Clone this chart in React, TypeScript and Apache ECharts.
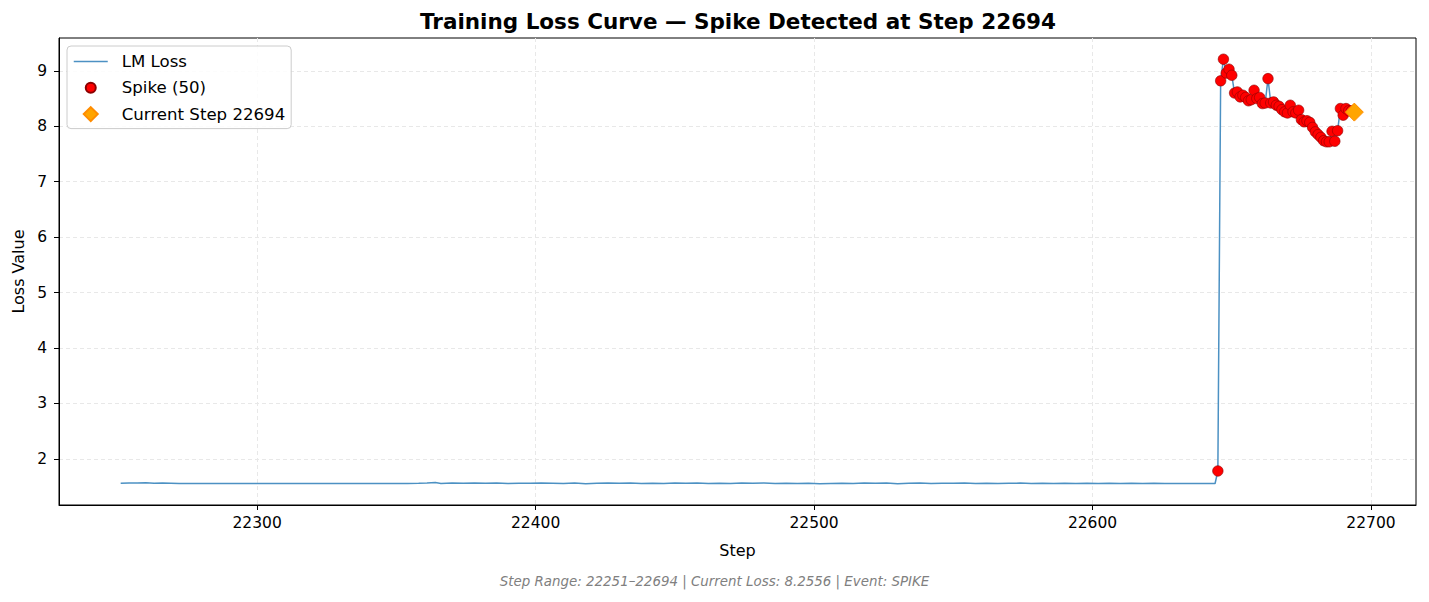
import { useEffect, useRef } from 'react';
import * as echarts from 'echarts';

// Flat part of the loss curve before the spike, [step, loss]
const baseLoss: [number, number][] = [
    [22251, 1.560], [22254, 1.565], [22257, 1.562], [22260, 1.566], [22263, 1.558],
    [22266, 1.563], [22269, 1.560], [22272, 1.553], [22300, 1.553], [22330, 1.553],
    [22354, 1.553], [22358, 1.558], [22361, 1.562], [22364, 1.570], [22366, 1.556],
    [22370, 1.562], [22374, 1.558], [22378, 1.563], [22382, 1.557], [22386, 1.561],
    [22390, 1.555], [22394, 1.560], [22398, 1.557], [22402, 1.562], [22406, 1.560],
    [22410, 1.556], [22414, 1.562], [22418, 1.550], [22422, 1.560], [22426, 1.562],
    [22430, 1.557], [22434, 1.561], [22438, 1.555], [22442, 1.559], [22446, 1.556],
    [22450, 1.561], [22454, 1.557], [22458, 1.563], [22462, 1.555], [22466, 1.560],
    [22470, 1.552], [22474, 1.561], [22478, 1.557], [22482, 1.562], [22486, 1.556],
    [22490, 1.559], [22494, 1.554], [22498, 1.557], [22502, 1.549], [22506, 1.556],
    [22510, 1.560], [22514, 1.555], [22518, 1.561], [22522, 1.557], [22526, 1.562],
    [22530, 1.551], [22534, 1.558], [22538, 1.562], [22542, 1.556], [22546, 1.560],
    [22550, 1.557], [22554, 1.561], [22558, 1.554], [22562, 1.559], [22566, 1.552],
    [22570, 1.558], [22574, 1.561], [22578, 1.556], [22582, 1.560], [22586, 1.555],
    [22590, 1.559], [22594, 1.556], [22598, 1.560], [22602, 1.554], [22606, 1.558],
    [22610, 1.555], [22614, 1.559], [22618, 1.555], [22622, 1.558], [22626, 1.554],
    [22630, 1.556], [22634, 1.555], [22638, 1.556], [22642, 1.554], [22644, 1.554]
];

// Spike region: steps 22645..22694, one value per step
const spikeSteps = [
    22645, 22646, 22647, 22648, 22649, 22650, 22651, 22652, 22653, 22654,
    22655, 22656, 22657, 22658, 22659, 22660, 22661, 22662, 22663, 22664,
    22665, 22666, 22667, 22668, 22669, 22670, 22671, 22672, 22673, 22674,
    22675, 22676, 22677, 22678, 22679, 22680, 22681, 22682, 22683, 22684,
    22685, 22686, 22687, 22688, 22689, 22690, 22691, 22692, 22693, 22694
];
const spikeValues = [
    1.78, 8.82, 9.21, 8.96, 9.03, 8.92, 8.60, 8.62, 8.53, 8.56,
    8.52, 8.46, 8.48, 8.65, 8.50, 8.52, 8.41, 8.42, 8.86, 8.42,
    8.44, 8.38, 8.36, 8.30, 8.26, 8.24, 8.38, 8.26, 8.24, 8.29,
    8.12, 8.08, 8.10, 8.07, 7.98, 7.90, 7.85, 7.80, 7.74, 7.72,
    7.72, 7.91, 7.73, 7.92, 8.32, 8.20, 8.32, 8.28, 8.28, 8.2556
];

const currentStep = 22694;
const currentLoss = 8.2556;
const eventName = 'SPIKE';

const FONT = 'DejaVu Sans';
const LINE_COLOR = '#4c91c3';

// legend icons: small padded circle, diamond
const DOT_ICON = 'path://M-7,-7M7,7M-5,0A5,5,0,1,0,5,0A5,5,0,1,0,-5,0Z';
const DIAMOND_ICON = 'path://M0,-1L1,0L0,1L-1,0Z';

export default function App() {
    const chartRef = useRef<HTMLDivElement>(null);

    useEffect(() => {
        if (!chartRef.current) return;
        const chart = echarts.init(chartRef.current, undefined, { renderer: 'svg' });

        const spikePoints = spikeSteps.map((s, i) => [s, spikeValues[i]]);
        const linePoints = [...baseLoss, ...spikePoints];

        // matplotlib-style 5% margins around the data
        const xs = linePoints.map(p => p[0]);
        const ys = linePoints.map(p => p[1]);
        const xMin = Math.min(...xs), xMax = Math.max(...xs);
        const yMin = Math.min(...ys), yMax = Math.max(...ys);
        const xPad = (xMax - xMin) * 0.05;
        const yPad = (yMax - yMin) * 0.05;

        const lossName = 'LM Loss';
        const spikeName = `Spike (${spikeSteps.length})`;
        const currentName = `Current Step ${currentStep}`;

        const gridLine = { show: true, showMinLine: false, showMaxLine: false, lineStyle: { type: [4, 3], color: '#e8e8e8', width: 1 } };

        const option: echarts.EChartsOption = {
            animation: false,
            backgroundColor: '#fff',
            textStyle: { fontFamily: FONT },
            title: {
                text: `Training Loss Curve — Spike Detected at Step ${currentStep}`,
                left: 733,
                textAlign: 'center',
                top: 5,
                textStyle: { fontFamily: FONT, fontSize: 21.5, fontWeight: 'bold', color: '#000' }
            },
            legend: {
                orient: 'vertical',
                left: 67,
                top: 46,
                padding: [7, 6, 6, 6],
                itemWidth: 34,
                itemHeight: 14,
                itemGap: 9.3,
                backgroundColor: 'rgba(255,255,255,0.85)',
                borderColor: '#cccccc',
                borderWidth: 1,
                borderRadius: 4,
                textStyle: { fontFamily: FONT, fontSize: 16.6, color: '#000', padding: [0, 0, 0, 9] },
                data: [
                    {
                        name: lossName,
                        itemStyle: { color: 'rgba(0,0,0,0)', borderWidth: 0 },
                        lineStyle: { color: LINE_COLOR, width: 1.5 }
                    },
                    { name: spikeName, icon: DOT_ICON },
                    { name: currentName, icon: DIAMOND_ICON }
                ]
            },
            grid: { left: 59, right: 13, top: 38, bottom: 97, show: true, borderColor: '#000', borderWidth: 1 },
            xAxis: {
                type: 'value',
                min: xMin - xPad,
                max: xMax + xPad,
                name: 'Step',
                nameLocation: 'middle',
                nameGap: 37,
                nameTextStyle: { fontFamily: FONT, fontSize: 16, color: '#000' },
                axisLine: { show: true, lineStyle: { color: '#000', width: 1 } },
                axisTick: { show: true, inside: false, length: 5, lineStyle: { color: '#000' } },
                axisLabel: {
                    margin: 10,
                    fontFamily: FONT,
                    fontSize: 15.5,
                    color: '#000',
                    showMinLabel: false,
                    showMaxLabel: false,
                    formatter: (v: number) => (v % 100 === 0 ? String(v) : '')
                },
                splitLine: gridLine
            },
            yAxis: {
                type: 'value',
                min: yMin - yPad,
                max: yMax + yPad,
                splitNumber: 8,
                name: 'Loss Value',
                nameLocation: 'middle',
                nameGap: 31,
                nameTextStyle: { fontFamily: FONT, fontSize: 16, color: '#000' },
                axisLine: { show: true, lineStyle: { color: '#000', width: 1 } },
                axisTick: { show: true, inside: false, length: 5, lineStyle: { color: '#000' } },
                axisLabel: {
                    margin: 12,
                    fontFamily: FONT,
                    fontSize: 15.5,
                    color: '#000',
                    showMinLabel: false,
                    showMaxLabel: false,
                    formatter: (v: number) => (Number.isInteger(v) ? String(v) : '')
                },
                splitLine: gridLine
            },
            series: [
                {
                    name: lossName,
                    type: 'line',
                    data: linePoints,
                    showSymbol: false,
                    symbol: 'none',
                    lineStyle: { color: LINE_COLOR, width: 1.5 },
                    itemStyle: { color: LINE_COLOR },
                    z: 2
                },
                {
                    name: spikeName,
                    type: 'scatter',
                    data: spikePoints,
                    symbol: 'circle',
                    symbolSize: 10.5,
                    itemStyle: { color: '#ff0000', borderColor: '#8b0000', borderWidth: 0.6, opacity: 1 },
                    z: 3
                },
                {
                    name: currentName,
                    type: 'scatter',
                    data: [[currentStep, currentLoss]],
                    symbol: 'diamond',
                    symbolSize: 18,
                    itemStyle: { color: '#ffa500', borderColor: '#ff8c00', borderWidth: 1, opacity: 1 },
                    z: 4
                }
            ],
            graphic: [
                {
                    type: 'text',
                    left: 'center',
                    top: 575,
                    style: {
                        text: `Step Range: ${baseLoss[0][0]}–${currentStep} | Current Loss: ${currentLoss.toFixed(4)} | Event: ${eventName}`,
                        fontFamily: FONT,
                        fontSize: 13.4,
                        fontStyle: 'italic',
                        fill: '#808080'
                    }
                }
            ]
        };

        chart.setOption(option);
        return () => {
            chart.dispose();
        };
    }, []);

    return (
        <div
            ref={chartRef}
            style={{ position: 'fixed', left: 0, top: 0, width: 1429, height: 602 }}
        />
    );
}
